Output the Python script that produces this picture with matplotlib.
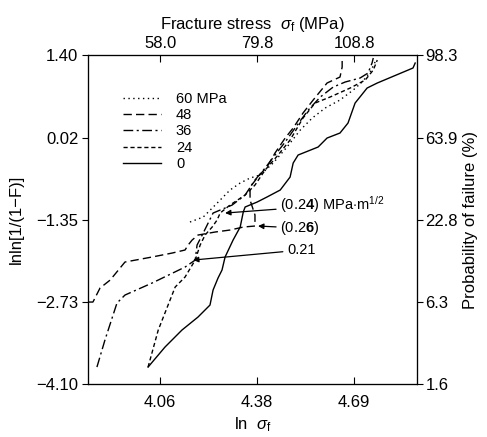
import numpy as np
import matplotlib
matplotlib.use("Agg")
import matplotlib.pyplot as plt

plt.rcParams['font.family'] = ['Liberation Sans', 'DejaVu Sans']
plt.rcParams['mathtext.fontset'] = 'custom'
plt.rcParams['mathtext.rm'] = 'Liberation Sans'
plt.rcParams['mathtext.it'] = 'Liberation Sans:italic'
plt.rcParams['mathtext.bf'] = 'Liberation Sans:bold'

# ln(sigma_f) vs lnln[1/(1-F)] for each stress level
x0 = [4.021, 4.076, 4.131, 4.183, 4.222, 4.232, 4.248, 4.261, 4.271, 4.297, 4.320,
      4.330, 4.336, 4.375, 4.407, 4.450, 4.482, 4.492, 4.508, 4.573, 4.602, 4.644,
      4.670, 4.693, 4.732, 4.765, 4.881, 4.888]
y0 = [-3.817, -3.482, -3.198, -2.981, -2.780, -2.529, -2.329, -2.195, -1.977, -1.693,
      -1.476, -1.225, -1.141, -1.058, -0.974, -0.857, -0.640, -0.406, -0.272, -0.138,
      0.012, 0.096, 0.263, 0.597, 0.848, 0.932, 1.183, 1.266]

x24 = [4.021, 4.054, 4.109, 4.141, 4.174, 4.190, 4.206, 4.229, 4.245, 4.255, 4.287,
       4.336, 4.368, 4.401, 4.443, 4.482, 4.524, 4.563, 4.612, 4.677, 4.726, 4.752, 4.765]
y24 = [-3.817, -3.198, -2.479, -2.312, -2.028, -1.777, -1.610, -1.476, -1.359, -1.242,
       -1.108, -0.941, -0.774, -0.523, -0.272, -0.021, 0.347, 0.597, 0.698, 0.848,
       0.982, 1.149, 1.316]

x36 = [3.855, 3.881, 3.920, 3.946, 4.034, 4.141, 4.174, 4.180, 4.200, 4.232, 4.255,
       4.294, 4.336, 4.368, 4.401, 4.433, 4.466, 4.505, 4.541, 4.580, 4.622, 4.661,
       4.709, 4.735, 4.748, 4.752]
y36 = [-3.817, -3.365, -2.747, -2.613, -2.412, -2.145, -2.028, -1.777, -1.576, -1.242,
       -1.192, -1.108, -0.941, -0.690, -0.489, -0.272, -0.055, 0.230, 0.480, 0.698,
       0.865, 0.949, 1.015, 1.099, 1.266, 1.350]

x48 = [3.826, 3.842, 3.865, 3.898, 3.946, 4.034, 4.099, 4.141, 4.151, 4.164, 4.183,
       4.239, 4.287, 4.330, 4.368, 4.368, 4.352, 4.352, 4.375, 4.411, 4.433, 4.466,
       4.492, 4.524, 4.557, 4.602, 4.644, 4.651, 4.651]
y48 = [-2.730, -2.730, -2.496, -2.362, -2.061, -1.977, -1.911, -1.860, -1.777, -1.693,
       -1.610, -1.559, -1.526, -1.476, -1.459, -1.275, -1.024, -0.807, -0.657, -0.439,
       -0.239, 0.012, 0.180, 0.430, 0.648, 0.932, 1.032, 1.199, 1.316]

x60 = [4.157, 4.200, 4.239, 4.287, 4.320, 4.352, 4.385, 4.427, 4.472, 4.515, 4.554,
       4.596, 4.644, 4.687, 4.716, 4.742, 4.758]
y60 = [-1.392, -1.309, -1.108, -0.857, -0.740, -0.657, -0.606, -0.406, -0.138, 0.146,
       0.347, 0.514, 0.648, 0.815, 0.949, 1.116, 1.283]

xticks = [4.06, 4.375, 4.69]
xtick_labels = ['4.06', '4.38', '4.69']
top_labels = ['58.0', '79.8', '108.8']
yticks = [1.40, 0.02, -1.35, -2.73, -4.10]
ytick_labels = ['1.40', '0.02', '\u22121.35', '\u22122.73', '\u22124.10']
right_labels = ['98.3', '63.9', '22.8', '6.3', '1.6']

fig = plt.figure(figsize=(4.87, 4.37), dpi=100)
ax = fig.add_axes([0.1807, 0.1213, 0.6756, 0.7528])

lw = 1.0
ax.plot(x60, y60, color='k', lw=lw, linestyle=(0, (1, 2.5)), label='60 MPa')
ax.plot(x48, y48, color='k', lw=lw, linestyle=(0, (6, 3)), label='48')
ax.plot(x36, y36, color='k', lw=lw, linestyle=(0, (7, 2.5, 1.5, 2.5)), label='36')
ax.plot(x24, y24, color='k', lw=lw, linestyle=(0, (3, 2)), label='24')
ax.plot(x0, y0, color='k', lw=lw, linestyle='-', label='0')

ax.set_xlim(3.826, 4.894)
ax.set_ylim(-4.10, 1.40)
ax.set_xticks(xticks)
ax.set_xticklabels(xtick_labels)
ax.set_yticks(yticks)
ax.set_yticklabels(ytick_labels)
ax.tick_params(axis='x', direction='in', length=5, labelsize=12, pad=8)
ax.tick_params(axis='y', direction='out', length=4, labelsize=12, pad=3)
ax.set_xlabel(r'ln  $\sigma_{\rm f}$', fontsize=12, labelpad=4)
ax.set_ylabel('lnln[1/(1\u2212F)]', fontsize=12, labelpad=9)

axt = ax.twiny()
axt.set_xlim(ax.get_xlim())
axt.set_xticks(xticks)
axt.set_xticklabels(top_labels)
axt.tick_params(axis='x', direction='in', length=5, labelsize=12, pad=3)
axt.set_xlabel(r'Fracture stress  $\sigma_{\rm f}$ (MPa)', fontsize=12, labelpad=5)

axr = ax.twinx()
axr.set_ylim(ax.get_ylim())
axr.set_yticks(yticks)
axr.set_yticklabels(right_labels)
axr.tick_params(axis='y', direction='out', length=4, labelsize=12, pad=2)
axr.set_ylabel('Probability of failure (%)', fontsize=12, labelpad=4)

for a in (ax, axt, axr):
    for s in a.spines.values():
        s.set_linewidth(0.8)

ax.legend(loc='upper left', bbox_to_anchor=(0.09, 0.905), frameon=False,
          fontsize=10.5, handlelength=2.6, handletextpad=1.0, labelspacing=0.15,
          borderaxespad=0)

arrow = dict(arrowstyle='-|>', color='k', lw=0.9, mutation_scale=8, shrinkA=1, shrinkB=0)
ax.annotate(r'(0.2$\mathbf{4}$) MPa$\cdot$m$^{\mathregular{1/2}}$', xy=(4.271, -1.242),
            xytext=(4.450, -1.108), fontsize=10.5, va='center', ha='left', arrowprops=arrow)
ax.annotate(r'(0.2$\mathbf{6}$)', xy=(4.378, -1.459), xytext=(4.450, -1.493),
            fontsize=10.5, va='center', ha='left', arrowprops=arrow)
ax.annotate('0.21', xy=(4.167, -2.028), xytext=(4.472, -1.860),
            fontsize=10.5, va='center', ha='left', arrowprops=arrow)

fig.savefig('out.png', dpi=100)
